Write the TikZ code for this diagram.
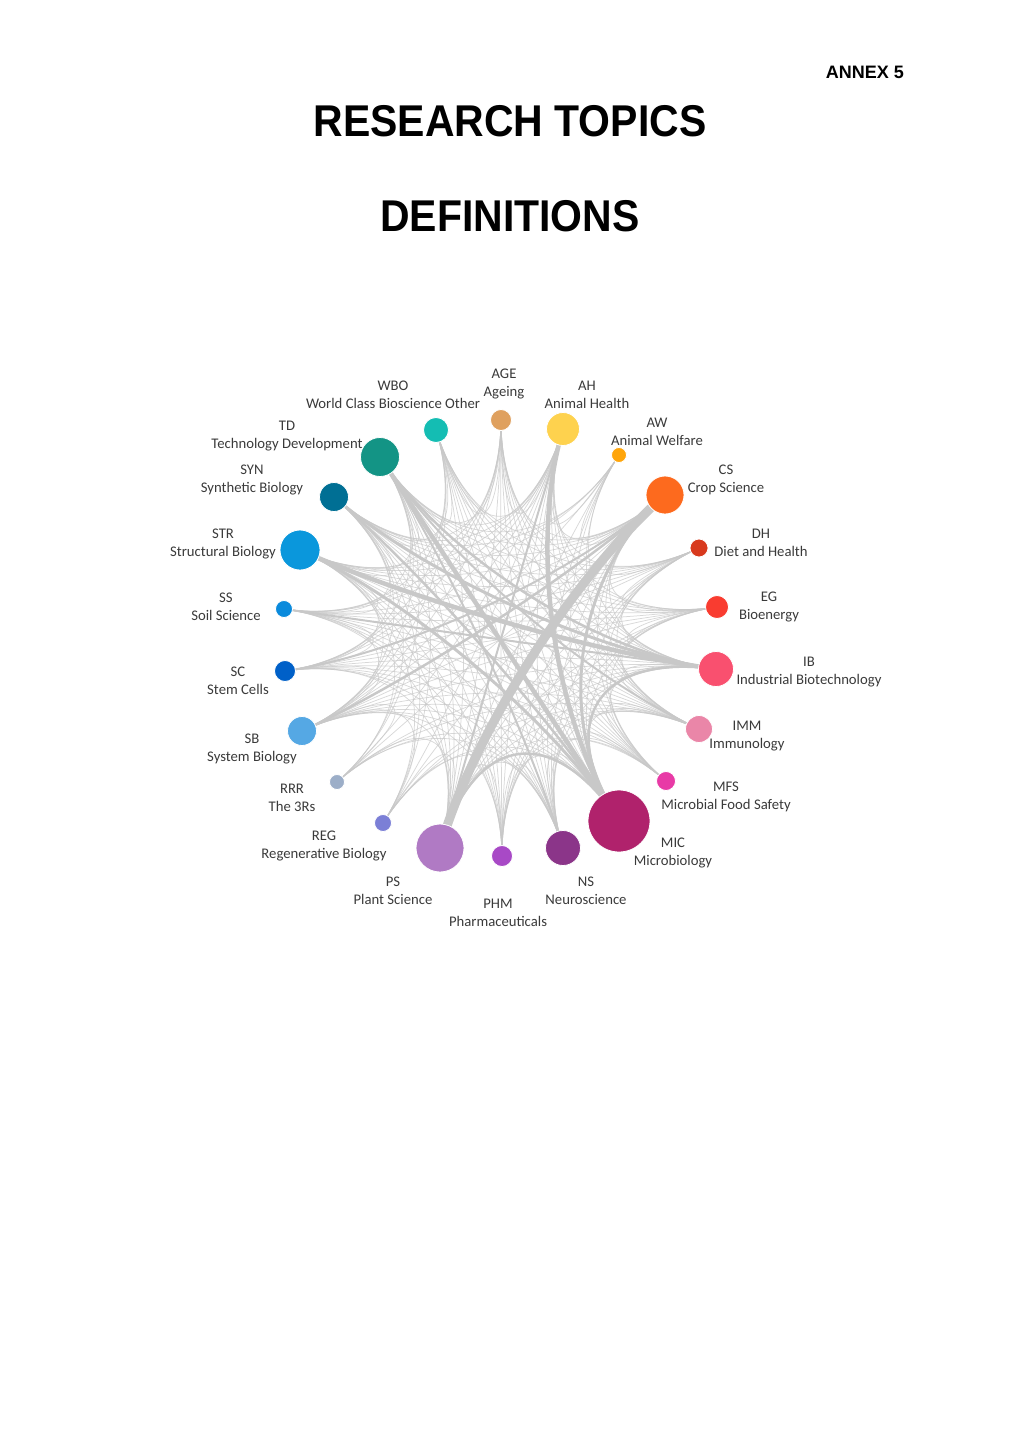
\documentclass[tikz,border=0pt]{standalone}
\usepackage{fontspec}
\setmainfont{Carlito}
\newfontfamily\titlefont[FakeStretch=0.92]{Liberation Sans}
\newfontfamily\annexfont{Liberation Sans}
\usetikzlibrary{calc}
\pgfdeclarelayer{bg}
\pgfsetlayers{bg,main}
\definecolor{cAGE}{HTML}{DFA05E}
\definecolor{cWBO}{HTML}{14BDB3}
\definecolor{cTD}{HTML}{139485}
\definecolor{cSYN}{HTML}{006F94}
\definecolor{cSTR}{HTML}{0A97DC}
\definecolor{cSS}{HTML}{0A8ADC}
\definecolor{cSC}{HTML}{0060C8}
\definecolor{cSB}{HTML}{55A8E4}
\definecolor{cRRR}{HTML}{9CAEC8}
\definecolor{cREG}{HTML}{7B7FD6}
\definecolor{cPS}{HTML}{B07AC4}
\definecolor{cPHM}{HTML}{A849C6}
\definecolor{cNS}{HTML}{8B3589}
\definecolor{cMIC}{HTML}{B0226C}
\definecolor{cMFS}{HTML}{E83AA6}
\definecolor{cIMM}{HTML}{EA86A8}
\definecolor{cIB}{HTML}{F9506F}
\definecolor{cEG}{HTML}{F93C30}
\definecolor{cDH}{HTML}{D8391D}
\definecolor{cCS}{HTML}{FD6A1E}
\definecolor{cAW}{HTML}{FFA50A}
\definecolor{cAH}{HTML}{FED24E}
\definecolor{edgegrey}{HTML}{C8C8C8}
\definecolor{labelgrey}{HTML}{3A3A3A}
\tikzset{
  topic/.style={circle, inner sep=0pt, minimum size=#1, draw=white, line width=0.8pt},
  toplabel/.style={align=center, inner sep=0pt, text=labelgrey, font=\fontsize{14.7}{18}\selectfont},
  thinedge/.style={draw=edgegrey, line width=0.75pt, opacity=0.7},
  thickedge/.style={draw=edgegrey, line width=#1},
  bigtitle/.style={inner sep=0pt, font=\titlefont\bfseries\fontsize{44.5}{50}\selectfont},
}
\begin{document}
\begin{tikzpicture}[x=1pt,y=-1pt]
\useasboundingbox (0,0) rectangle (1020,1442);
% titles
\node[inner sep=0pt, anchor=east, font=\annexfont\bfseries\fontsize{18}{20}\selectfont] (annex) at (904,72) {ANNEX 5};
\node[bigtitle] (title1) at (510,121) {RESEARCH TOPICS};
\node[bigtitle] (title2) at (510,216) {DEFINITIONS};
\coordinate (O) at (500,640);
% topic circles
\foreach \n/\x/\y/\d in {AGE/501/420/21, WBO/436/430/25, TD/380/457/39, SYN/334/497/29,
  STR/300/550/40, SS/284/609/17, SC/285/671/21, SB/302/731/29, RRR/337/782/15,
  REG/383/823/17, PS/440/848/48, PHM/502/856/21, NS/563/848/35, MIC/619/821/62,
  MFS/666/781/19, IMM/699/729/27, IB/716/669/35, EG/717/607/23, DH/699/548/18,
  CS/665/495/38, AW/619/455/15, AH/563/429/33}{
  \node[topic=\d pt, fill=c\n] (\n) at (\x,\y) {};
}
% labels
\node[toplabel] (lAGE) at (504,384) {AGE\\Ageing};
\node[toplabel] (lWBO) at (393,395) {WBO\\World Class Bioscience Other};
\node[toplabel] (lTD) at (287,436) {TD\\Technology Development};
\node[toplabel] (lSYN) at (252,480) {SYN\\Synthetic Biology};
\node[toplabel] (lSTR) at (223,544) {STR\\Structural Biology};
\node[toplabel] (lSS) at (226,607) {SS\\Soil Science};
\node[toplabel] (lSC) at (238,681) {SC\\Stem Cells};
\node[toplabel] (lSB) at (252,749) {SB\\System Biology};
\node[toplabel] (lRRR) at (292,798) {RRR\\The 3Rs};
\node[toplabel] (lREG) at (324,846) {REG\\Regenerative Biology};
\node[toplabel] (lPS) at (393,891) {PS\\Plant Science};
\node[toplabel] (lPHM) at (498,913) {PHM\\Pharmaceuticals};
\node[toplabel] (lNS) at (586,891) {NS\\Neuroscience};
\node[toplabel] (lMIC) at (673,853) {MIC\\Microbiology};
\node[toplabel] (lMFS) at (726,797) {MFS\\Microbial Food Safety};
\node[toplabel] (lIMM) at (747,736) {IMM\\Immunology};
\node[toplabel] (lIB) at (809,672) {IB\\Industrial Biotechnology};
\node[toplabel] (lEG) at (769,607) {EG\\Bioenergy};
\node[toplabel] (lDH) at (761,543) {DH\\Diet and Health};
\node[toplabel] (lCS) at (726,480) {CS\\Crop Science};
\node[toplabel] (lAW) at (657,432) {AW\\Animal Welfare};
\node[toplabel] (lAH) at (587,395) {AH\\Animal Health};
% connectors (weight 2 = strongly linked topic, 1 = medium, 0 = sparse)
\begin{pgfonlayer}{bg}
\foreach \a/\fa [count=\i] in {AGE/1,WBO/1,TD/2,SYN/2,STR/2,SS/1,SC/1,SB/2,RRR/0,REG/0,PS/2,PHM/1,NS/2,MIC/2,MFS/1,IMM/2,IB/2,EG/1,DH/1,CS/2,AW/0,AH/2}{
  \foreach \b/\fb [count=\j] in {AGE/1,WBO/1,TD/2,SYN/2,STR/2,SS/1,SC/1,SB/2,RRR/0,REG/0,PS/2,PHM/1,NS/2,MIC/2,MFS/1,IMM/2,IB/2,EG/1,DH/1,CS/2,AW/0,AH/2}{
    \ifnum\j>\i
      \ifnum\numexpr\fa+\fb\relax>1
        \draw[thinedge] (\a.center) .. controls ($(\a.center)!0.55!(O)$) and ($(\b.center)!0.55!(O)$) .. (\b.center);
      \fi
    \fi
  }
}
\foreach \a/\b/\w in {CS/PS/9pt, AH/MIC/4.5pt, TD/MIC/4.5pt, STR/IB/4.5pt, SYN/IB/3pt,
  STR/MIC/3pt, TD/IB/2.5pt, SB/CS/2.5pt, IB/MIC/2.5pt, PS/MIC/2.5pt, CS/MIC/3pt,
  SS/IB/2pt, SC/CS/2pt, AH/PS/2pt, IMM/TD/2pt, NS/TD/2pt, SYN/MIC/2.5pt}{
  \draw[thickedge=\w] (\a.center) .. controls ($(\a.center)!0.55!(O)$) and ($(\b.center)!0.55!(O)$) .. (\b.center);
}
\end{pgfonlayer}
\end{tikzpicture}
\end{document}
